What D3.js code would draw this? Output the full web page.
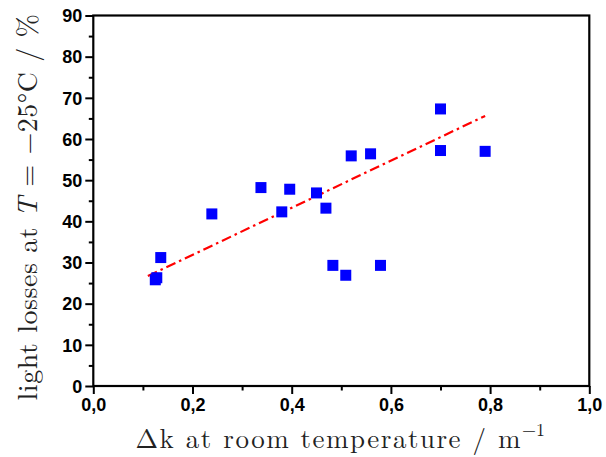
<!DOCTYPE html>
<html><head><meta charset="utf-8">
<script src="https://cdn.jsdelivr.net/npm/d3@7"></script>
<style>body{margin:0;background:#fff}</style>
</head><body>
<svg id="c" width="606" height="457"></svg>
<script>
const dkValues = [0.125, 0.128, 0.136, 0.239, 0.338, 0.380, 0.396, 0.450, 0.469, 0.483, 0.509, 0.520, 0.559, 0.579, 0.700, 0.700, 0.790];
const lossValues = [25.8, 26.3, 31.2, 41.8, 48.2, 42.3, 47.8, 46.9, 43.2, 29.3, 26.9, 55.9, 56.4, 29.3, 67.3, 57.2, 57.0];
const fitX = [0.11, 0.79];
const fitY = [26.7, 65.6];
const xTicks = [0, 0.2, 0.4, 0.6, 0.8, 1.0];
const xMinor = [0.1, 0.3, 0.5, 0.7, 0.9];
const yTicks = [0, 10, 20, 30, 40, 50, 60, 70, 80, 90];
const yMinor = [5, 15, 25, 35, 45, 55, 65, 75, 85];

const L = 93.3, R = 589.3, T = 15.5, B = 386;
const svg = d3.select("#c");
const x = d3.scaleLinear().domain([0, 1]).range([L, R]);
const y = d3.scaleLinear().domain([0, 90]).range([B, T]);
const fmt = d => d3.format(".1f")(d).replace(".", ",");

// fit line
svg.append("path")
  .datum(fitX.map((v, i) => [v, fitY[i]]))
  .attr("d", d3.line().x(d => x(d[0])).y(d => y(d[1])))
  .attr("stroke", "#ff0000").attr("stroke-width", 2.2).attr("fill", "none")
  .attr("stroke-dasharray", "10,4,2.5,4");

// points
const s = 11;
svg.selectAll("rect.p").data(dkValues).enter().append("rect")
  .attr("class", "p")
  .attr("x", (d) => x(d) - s / 2)
  .attr("y", (d, i) => y(lossValues[i]) - s / 2)
  .attr("width", s).attr("height", s)
  .attr("fill", "#0000ff");

// axes
const xAxis = svg.append("g").attr("transform", `translate(0,${B})`)
  .call(d3.axisBottom(x).tickValues(xTicks).tickFormat(fmt).tickSize(8).tickSizeOuter(0));
const xAxisMinor = svg.append("g").attr("transform", `translate(0,${B})`)
  .call(d3.axisBottom(x).tickValues(xMinor).tickFormat("").tickSize(4.5).tickSizeOuter(0));
const yAxis = svg.append("g").attr("transform", `translate(${L},0)`)
  .call(d3.axisLeft(y).tickValues(yTicks).tickFormat(d => d).tickSize(8).tickSizeOuter(0));
const yAxisMinor = svg.append("g").attr("transform", `translate(${L},0)`)
  .call(d3.axisLeft(y).tickValues(yMinor).tickFormat("").tickSize(4.5).tickSizeOuter(0));
[xAxis, xAxisMinor, yAxis, yAxisMinor].forEach(g => {
  g.select(".domain").remove();
  g.selectAll("line").attr("stroke", "#000").attr("stroke-width", 2);
  g.selectAll("text").attr("fill", "#000")
    .style("font-family", "Liberation Sans, Arial, sans-serif")
    .style("font-weight", "bold").style("font-size", "18px");
});
xAxis.selectAll("text").attr("y", 12).attr("dy", "0.71em");
yAxis.selectAll("text").attr("x", -11).attr("dy", "0.35em");

// frame
svg.append("rect").attr("x", L).attr("y", T).attr("width", R - L).attr("height", B - T)
  .attr("fill", "none").attr("stroke", "#000").attr("stroke-width", 2.2);

// titles
const serif = "Latin Modern Roman, CMU Serif, Liberation Serif, DejaVu Serif, serif";
const xt = svg.append("text").attr("x", (L + R) / 2 - 1).attr("y", 448)
  .attr("text-anchor", "middle").style("font-family", serif).style("font-size", "27px")
  .style("letter-spacing", "1.5px").attr("fill", "#222");
xt.append("tspan").text("Δk at room temperature / m");
xt.append("tspan").text("−1").style("font-size", "18px").attr("dy", -12).style("letter-spacing", "0px");

const yt = svg.append("text").attr("transform", `translate(37,207) rotate(-90)`)
  .attr("text-anchor", "middle").style("font-family", serif).style("font-size", "28px")
  .style("letter-spacing", "0.5px").attr("fill", "#222");
yt.append("tspan").text("light losses at ");
yt.append("tspan").text("T").style("font-style", "italic");
yt.append("tspan").text(" = −25°C / %");
</script>
</body></html>
